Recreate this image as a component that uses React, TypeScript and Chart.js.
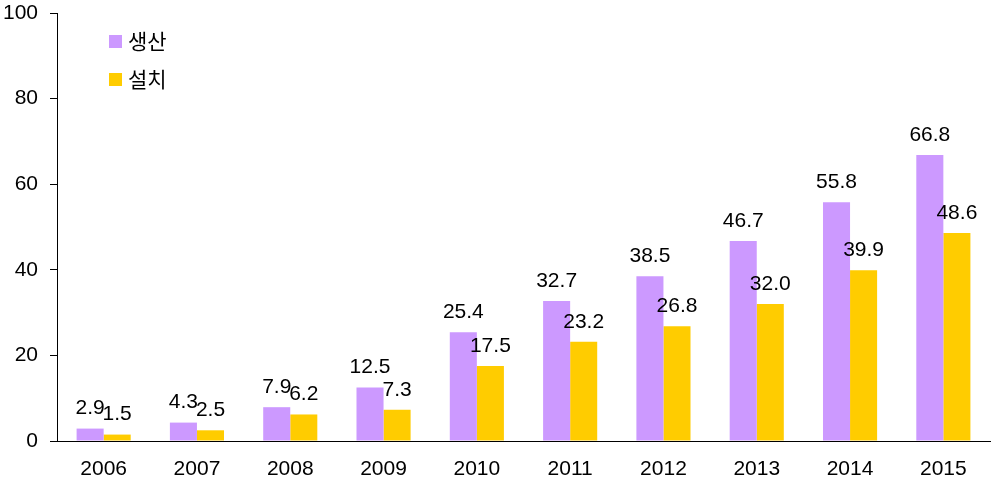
import React, { useEffect, useRef } from "react";
import { Chart, registerables } from "chart.js";

Chart.register(...registerables);

const categories = ["2006", "2007", "2008", "2009", "2010", "2011", "2012", "2013", "2014", "2015"];
const production = [2.9, 4.3, 7.9, 12.5, 25.4, 32.7, 38.5, 46.7, 55.8, 66.8];
const installation = [1.5, 2.5, 6.2, 7.3, 17.5, 23.2, 26.8, 32.0, 39.9, 48.6];
const seriesNames = ["생산", "설치"];
const seriesColors = ["#CC99FF", "#FFCC00"];

const FONT = "Liberation Sans, Arial, sans-serif";

const labelPlugin = {
  id: "valueLabels",
  afterDatasetsDraw(chart: any) {
    const ctx = chart.ctx;
    ctx.save();
    ctx.font = `21px ${FONT}`;
    ctx.fillStyle = "#000";
    ctx.textAlign = "center";
    ctx.textBaseline = "middle";
    chart.data.datasets.forEach((ds: any, i: number) => {
      const meta = chart.getDatasetMeta(i);
      meta.data.forEach((bar: any, j: number) => {
        ctx.fillText(Number(ds.data[j]).toFixed(1), bar.x, bar.y - 20);
      });
    });
    ctx.restore();
  },
};

const legendPlugin = {
  id: "innerLegend",
  afterDraw(chart: any) {
    const ctx = chart.ctx;
    ctx.save();
    ctx.textBaseline = "middle";
    ctx.textAlign = "left";
    ctx.font = `21px "Noto Sans CJK KR", sans-serif`;
    seriesNames.forEach((name, i) => {
      const y = 35 + i * 38;
      ctx.fillStyle = seriesColors[i];
      ctx.fillRect(109, y, 13, 13);
      ctx.fillStyle = "#000";
      ctx.fillText(name, 128, y + 6.5);
    });
    ctx.restore();
  },
};

export default function App() {
  const ref = useRef<HTMLCanvasElement>(null);
  useEffect(() => {
    document.body.style.margin = "0";
    const chart = new Chart(ref.current!, {
      type: "bar",
      data: {
        labels: categories,
        datasets: [
          { label: seriesNames[0], data: production, backgroundColor: seriesColors[0] },
          { label: seriesNames[1], data: installation, backgroundColor: seriesColors[1] },
        ],
      },
      options: {
        responsive: false,
        animation: false,
        layout: { padding: { top: 13, right: 4, left: 0, bottom: 0 } },
        plugins: { legend: { display: false }, tooltip: { enabled: false } },
        datasets: { bar: { categoryPercentage: 0.58, barPercentage: 1 } },
        scales: {
          x: {
            grid: { drawOnChartArea: false, drawTicks: false },
            border: { display: true, color: "#000", width: 1 },
            ticks: { color: "#000", font: { family: FONT, size: 21 }, padding: 16, maxRotation: 0 },
            afterFit: (s: any) => { s.height = 46; s.paddingLeft = 0; s.paddingRight = 0; },
          },
          y: {
            min: 0,
            max: 100,
            grid: { drawOnChartArea: false, drawTicks: true, tickLength: 7, color: "#000" },
            border: { display: true, color: "#000", width: 1 },
            ticks: { stepSize: 20, color: "#000", font: { family: FONT, size: 21 }, padding: 12 },
            afterFit: (s: any) => { s.width = 57; s.paddingTop = 0; s.paddingBottom = 0; },
          },
        },
      },
      plugins: [labelPlugin, legendPlugin],
    });
    return () => chart.destroy();
  }, []);
  return (
    <div style={{ width: 994, height: 487 }}>
      <canvas ref={ref} width={994} height={487} />
    </div>
  );
}
